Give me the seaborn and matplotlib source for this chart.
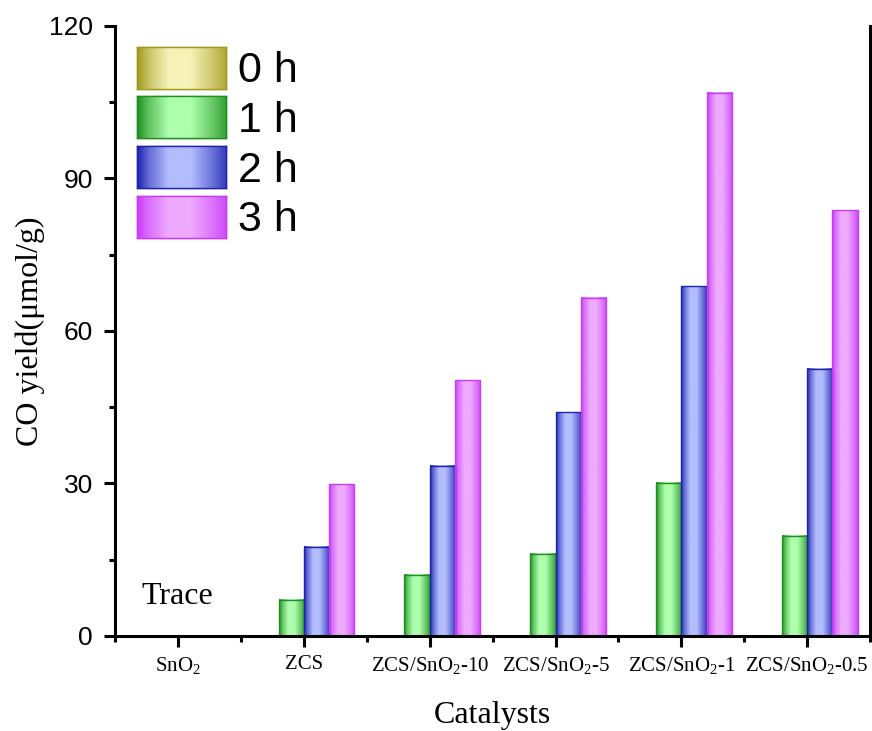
import numpy as np
import pandas as pd
import seaborn as sns
import matplotlib.pyplot as plt
from matplotlib.colors import to_rgb
from matplotlib.patches import Patch
from matplotlib.ticker import MultipleLocator, FixedLocator

catalysts = ['SnO$_\\mathrm{2}$', 'ZCS', 'ZCS/SnO$_\\mathrm{2}$-10', 'ZCS/SnO$_\\mathrm{2}$-5',
             'ZCS/SnO$_\\mathrm{2}$-1', 'ZCS/SnO$_\\mathrm{2}$-0.5']
hours = ['0 h', '1 h', '2 h', '3 h']
yield_0h = [0, 0, 0, 0, 0, 0]
yield_1h = [0, 7.1, 12.0, 16.2, 30.1, 19.7]
yield_2h = [0, 17.6, 33.5, 44.0, 68.8, 52.6]
yield_3h = [0, 29.8, 50.3, 66.5, 106.9, 83.7]

# dark edge tone / light centre tone for each series
dark = ['#a39a1e', '#1f8f1f', '#1f24b0', '#c83cf8']
light = ['#f6f2b8', '#adffad', '#b3bdfd', '#eeaafd']

df = pd.DataFrame({
    'catalyst': catalysts * 4,
    'time': np.repeat(hours, len(catalysts)),
    'yield': yield_0h + yield_1h + yield_2h + yield_3h,
})

sns.set_style('ticks')
plt.rcParams['font.family'] = ['Liberation Serif', 'DejaVu Serif']
plt.rcParams['mathtext.fontset'] = 'custom'
plt.rcParams['mathtext.rm'] = 'Liberation Serif'
plt.rcParams['mathtext.it'] = 'Liberation Serif:italic'
for k in ['text.color', 'axes.labelcolor', 'xtick.color', 'ytick.color', 'axes.edgecolor']:
    plt.rcParams[k] = 'black'


def gradient(c_dark, c_light, n=64):
    t = np.linspace(0, 1, n)
    w = np.interp(t, [0, 0.12, 0.35, 0.6, 0.85, 1.0], [0, 0.45, 1, 1, 0.5, 0.15])
    d = np.array(to_rgb(c_dark))
    l = np.array(to_rgb(c_light))
    return (d[None, :] * (1 - w[:, None]) + l[None, :] * w[:, None])[None, :, :]


fig = plt.figure(figsize=(8.72, 7.31), dpi=100)
ax = fig.add_axes([0.1319, 0.130, 0.866, 0.8345])

sns.barplot(data=df, x='catalyst', y='yield', hue='time', palette=dark,
            width=0.8, saturation=1, ax=ax)
ax.get_legend().remove()

for i, cont in enumerate(ax.containers):
    grad = gradient(dark[i], light[i])
    for bar in cont:
        x, w, h = bar.get_x(), bar.get_width(), bar.get_height()
        bar.set_facecolor('none')
        bar.set_edgecolor(dark[i])
        bar.set_linewidth(1.0)
        bar.set_zorder(2)
        if h > 0:
            ax.imshow(grad, extent=[x, x + w, 0, h], aspect='auto',
                      interpolation='bilinear', zorder=1.5)

ax.set_aspect('auto')
ax.set_xlim(-0.5, 5.5)
ax.set_ylim(0, 120)
ax.yaxis.set_major_locator(MultipleLocator(30))
ax.yaxis.set_minor_locator(MultipleLocator(15))
ax.xaxis.set_minor_locator(FixedLocator(np.arange(-0.5, 6, 1.0)))

sns.despine(ax=ax, top=True, right=False)
for s in ['left', 'bottom', 'right']:
    ax.spines[s].set_linewidth(2.2)
ax.tick_params(which='major', direction='out', length=8, width=2.2)
ax.tick_params(which='minor', direction='out', length=4.5, width=2.2)
ax.tick_params(axis='y', which='major', pad=8, labelsize=19)
ax.tick_params(axis='x', which='major', pad=6, labelsize=15)
ax.tick_params(axis='y', which='both', right=False)
for lab in ax.get_yticklabels():
    lab.set_family(['Liberation Sans', 'DejaVu Sans'])

ax.set_xlabel('Catalysts', fontsize=23, labelpad=18)
ax.set_ylabel('CO yield(\u03bcmol/g)', fontsize=23, labelpad=3)

ax.text(-0.29, 6.3, 'Trace', fontsize=23, va='baseline')

handles = [Patch(facecolor='none', edgecolor=c) for c in dark]
leg = ax.legend(handles=handles, labels=hours, loc='upper left',
                bbox_to_anchor=(0.029, 0.966), frameon=False,
                prop={'family': ['Liberation Sans', 'DejaVu Sans'], 'size': 31},
                handlelength=2.07, handleheight=1.12, labelspacing=0.12,
                handletextpad=0.28, borderpad=0, borderaxespad=0)

fig.canvas.draw()
inv = fig.transFigure.inverted()
for p, cd, cl in zip(leg.get_patches(), dark, light):
    bb = p.get_window_extent().transformed(inv)
    iax = fig.add_axes(bb.bounds)
    iax.imshow(gradient(cd, cl), extent=[0, 1, 0, 1], aspect='auto',
               interpolation='bilinear')
    iax.set_xticks([])
    iax.set_yticks([])
    for s in iax.spines.values():
        s.set_edgecolor(cd)
        s.set_linewidth(1.0)

fig.savefig('out.png', dpi=100)
